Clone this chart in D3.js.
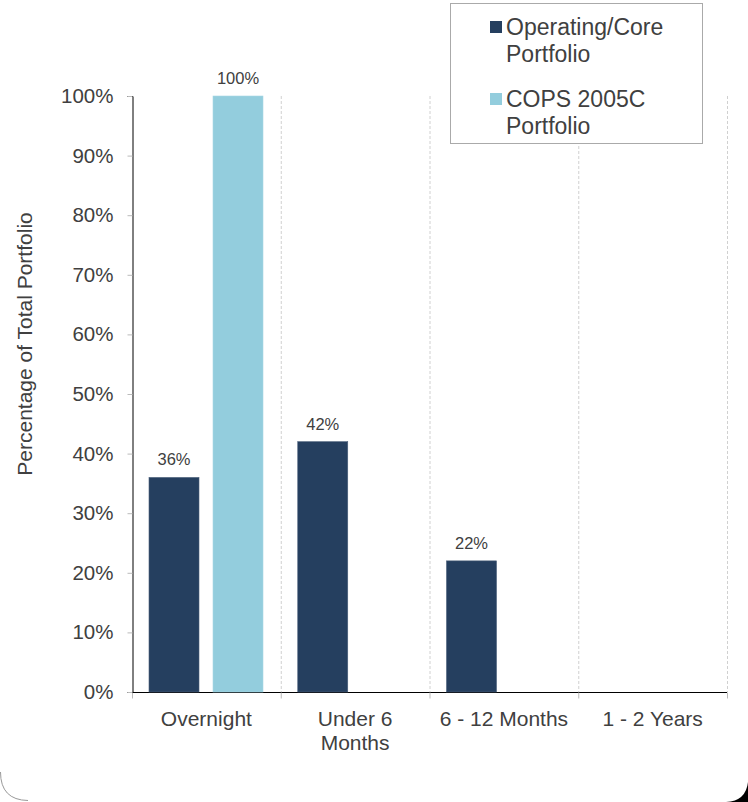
<!DOCTYPE html>
<html>
<head>
<meta charset="utf-8">
<script src="https://cdn.jsdelivr.net/npm/d3@7"></script>
<style>
  body { margin: 0; background: #fff; }
  text { font-family: "Liberation Sans", Arial, sans-serif; fill: #404040; }
</style>
</head>
<body>
<div id="chart"></div>
<script>
// 分类与数据
const categories = ['Overnight', 'Under 6\nMonths', '6 - 12 Months', '1 - 2 Years'];
const seriesNames = ['Operating/Core\nPortfolio', 'COPS 2005C\nPortfolio'];
const operatingCore = [36, 42, 22, 0];
const cops2005c = [100, 0, 0, 0];
const yTicks = [0, 10, 20, 30, 40, 50, 60, 70, 80, 90, 100];
const colors = ['#253f5f', '#93cddd'];

const W = 748, H = 802;
const margin = {left: 132, right: 21, top: 96, bottom: 110};

const svg = d3.select('#chart').append('svg')
    .attr('width', W)
    .attr('height', H);

// 圆角边框（只在底部可见）
svg.append('path')
    .attr('d', 'M0.5,772 Q0.5,800 28,800.5')
    .attr('fill', 'none')
    .attr('stroke', '#999')
    .attr('stroke-width', 1);
svg.append('path')
    .attr('d', 'M748,782 Q746,801 726,802 L748,802 Z')
    .attr('fill', '#000');

let x = d3.scaleBand()
    .domain(categories)
    .range([margin.left, W - margin.right]);
let y = d3.scaleLinear()
    .domain([0, 100])
    .range([H - margin.bottom, margin.top]);

// 竖向虚线网格
svg.append('g').selectAll('line')
    .data(categories.slice(1).concat(['end']))
    .join('line')
    .attr('x1', (d, i) => margin.left + x.bandwidth() * (i + 1) + 0.5)
    .attr('x2', (d, i) => margin.left + x.bandwidth() * (i + 1) + 0.5)
    .attr('y1', y(100))
    .attr('y2', y(0))
    .attr('stroke', '#d0d0d0')
    .attr('stroke-dasharray', '3,2');

// y轴
let yAxis = d3.axisLeft(y)
    .tickValues(yTicks)
    .tickSize(5)
    .tickPadding(14)
    .tickFormat(d => d + '%');
let gy = svg.append('g')
    .attr('transform', `translate(${margin.left + 0.5},0)`)
    .call(yAxis);
gy.select('.domain').attr('stroke', '#000');
gy.selectAll('.tick line').attr('stroke', '#bbb');
gy.selectAll('.tick text').attr('font-size', 20.5).style('fill', '#404040');

// x轴
let gx = svg.append('g')
    .attr('transform', `translate(0,${y(0) + 0.5})`);
gx.append('line')
    .attr('x1', margin.left)
    .attr('x2', W - margin.right)
    .attr('stroke', '#000');
gx.selectAll('.xtick')
    .data(d3.range(categories.length + 1))
    .join('line')
    .attr('x1', i => margin.left + i * x.bandwidth() + 0.5)
    .attr('x2', i => margin.left + i * x.bandwidth() + 0.5)
    .attr('y1', 0)
    .attr('y2', 6)
    .attr('stroke', '#bbb');
gx.selectAll('.xlabel')
    .data(categories)
    .join('text')
    .attr('text-anchor', 'middle')
    .attr('font-size', 21)
    .attr('transform', d => `translate(${x(d) + x.bandwidth() / 2},33)`)
    .each(function(d) {
        d.split('\n').forEach((line, i) => {
            d3.select(this).append('tspan')
                .attr('x', 0)
                .attr('y', i * 24)
                .text(line);
        });
    });

// y轴标题
svg.append('text')
    .attr('transform', `translate(32,344) rotate(-90)`)
    .attr('text-anchor', 'middle')
    .attr('font-size', 21)
    .text('Percentage of Total Portfolio');

// 柱子
const barW = 50;
const offsets = [17, 81];
const allSeries = [operatingCore, cops2005c];
allSeries.forEach((vals, s) => {
    let g = svg.append('g');
    let data = categories.map((c, i) => ({c: c, v: vals[i]})).filter(d => d.v > 0);
    g.selectAll('rect')
        .data(data)
        .join('rect')
        .attr('x', d => x(d.c) + offsets[s])
        .attr('y', d => y(d.v))
        .attr('width', barW)
        .attr('height', d => y(0) - y(d.v))
        .attr('fill', colors[s])
        .attr('stroke', s === 0 ? '#4a5f7a' : '#a9d6e3')
        .attr('stroke-width', 0.6);
    g.selectAll('text')
        .data(data)
        .join('text')
        .attr('x', d => x(d.c) + offsets[s] + barW / 2)
        .attr('y', d => y(d.v) - 12)
        .attr('text-anchor', 'middle')
        .attr('font-size', 16.5)
        .text(d => d.v + '%');
});

// 图例
let legend = svg.append('g');
legend.append('rect')
    .attr('x', 450.5)
    .attr('y', 3.5)
    .attr('width', 252)
    .attr('height', 140)
    .attr('fill', '#fff')
    .attr('stroke', '#aaa');
seriesNames.forEach((name, i) => {
    let top = 21 + i * 72;
    legend.append('rect')
        .attr('x', 490)
        .attr('y', top)
        .attr('width', 12)
        .attr('height', 12)
        .attr('fill', colors[i]);
    let t = legend.append('text')
        .attr('font-size', 23);
    name.split('\n').forEach((line, j) => {
        t.append('tspan')
            .attr('x', 506)
            .attr('y', top + 14 + j * 27)
            .text(line);
    });
});
</script>
</body>
</html>
